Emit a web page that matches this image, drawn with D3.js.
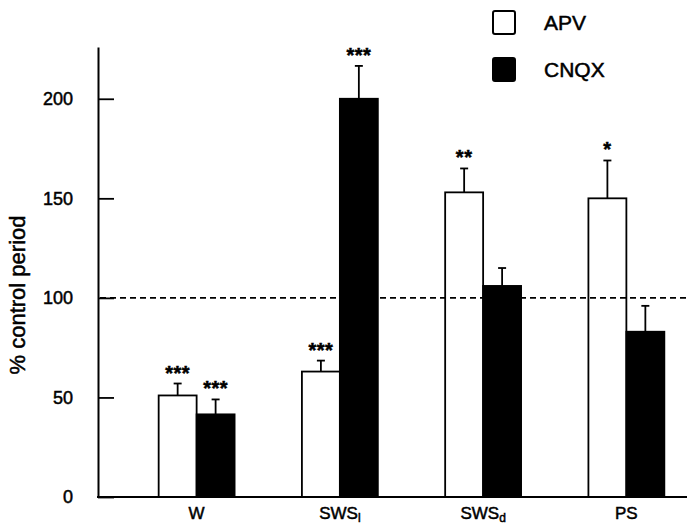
<!DOCTYPE html>
<html>
<head>
<meta charset="utf-8">
<script src="https://cdn.jsdelivr.net/npm/d3@7"></script>
<style>
  body { margin: 0; background: #fff; }
  text { font-family: "Liberation Sans", Arial, Helvetica, sans-serif; fill: #000; stroke: #000; stroke-width: 0.5px; }
</style>
</head>
<body>
<div id="chart"></div>
<script>
// data
const categories = ['W', 'SWSl', 'SWSd', 'PS'];
const catLabels = [['W', ''], ['SWS', 'l'], ['SWS', 'd'], ['PS', '']];
const seriesNames = ['APV', 'CNQX'];
const apvValues = [51, 63, 153, 150];
const apvSem = [6, 5.5, 12, 19];
const apvStars = ['***', '***', '**', '*'];
const cnqxValues = [41.5, 200, 106, 83];
const cnqxSem = [7.5, 16.5, 9, 13];
const cnqxStars = ['***', '***', '', ''];
const yTicks = [0, 50, 100, 150, 200];
const refLine = 100;

const width = 687, height = 526;

const svg = d3.select('#chart').append('svg')
  .attr('width', width)
  .attr('height', height);

const y = d3.scaleLinear().domain([0, 226]).range([497, 47]);
const x = d3.scaleBand().domain(categories).range([125, 698])
  .paddingInner(0.47).paddingOuter(0.235);
const xs = d3.scaleBand().domain(seriesNames).range([0, x.bandwidth()]);

const rows = [];
categories.forEach((c, i) => {
  rows.push({ cat: c, s: 'APV', v: apvValues[i], e: apvSem[i], star: apvStars[i], fill: '#fff' });
  rows.push({ cat: c, s: 'CNQX', v: cnqxValues[i], e: cnqxSem[i], star: cnqxStars[i], fill: '#000' });
});

// error bars (drawn first so the bar outline covers the base)
const err = svg.append('g').selectAll('g').data(rows).join('g')
  .attr('transform', d => `translate(${x(d.cat) + xs(d.s) + xs.bandwidth() / 2},0)`);
err.append('line')
  .attr('y1', d => y(d.v)).attr('y2', d => y(d.v + d.e))
  .attr('stroke', '#000').attr('stroke-width', 1.8);
err.append('line')
  .attr('x1', -4).attr('x2', 4)
  .attr('y1', d => y(d.v + d.e)).attr('y2', d => y(d.v + d.e))
  .attr('stroke', '#000').attr('stroke-width', 1.8);

// bars
svg.append('g').selectAll('rect').data(rows).join('rect')
  .attr('x', d => x(d.cat) + xs(d.s))
  .attr('y', d => y(d.v))
  .attr('width', xs.bandwidth())
  .attr('height', d => y(0) - y(d.v))
  .attr('fill', d => d.fill)
  .attr('stroke', '#000')
  .attr('stroke-width', 1.8);

// significance stars
svg.append('g').selectAll('text').data(rows).join('text')
  .attr('x', d => x(d.cat) + xs(d.s) + xs.bandwidth() / 2)
  .attr('y', d => y(d.v + d.e) - 4)
  .attr('text-anchor', 'middle')
  .attr('font-size', 20)
  .attr('font-weight', 'bold')
  .attr('letter-spacing', 0.5)
  .text(d => d.star);

// reference line at 100 %
svg.append('line')
  .attr('x1', 100).attr('x2', width)
  .attr('y1', y(refLine)).attr('y2', y(refLine))
  .attr('stroke', '#000').attr('stroke-width', 1.6)
  .attr('stroke-dasharray', '6,4');

// y axis, ticks pointing inward
const yAxis = svg.append('g')
  .attr('transform', 'translate(98,0)')
  .call(d3.axisLeft(y).tickValues(yTicks).tickSizeInner(-16).tickSizeOuter(0).tickPadding(25));
yAxis.select('.domain').attr('stroke-width', 2);
yAxis.selectAll('.tick line').attr('stroke-width', 1.8);
yAxis.selectAll('.tick text')
  .attr('font-size', 18)
  .style('font-family', '"Liberation Sans", Arial, sans-serif');

// x axis baseline
svg.append('line')
  .attr('x1', 97).attr('x2', width)
  .attr('y1', y(0)).attr('y2', y(0))
  .attr('stroke', '#000').attr('stroke-width', 2);

// category labels with subscripts
const xl = svg.append('g').selectAll('text').data(categories).join('text')
  .attr('x', d => x(d) + x.bandwidth() / 2)
  .attr('y', 519)
  .attr('text-anchor', 'middle')
  .attr('font-size', 17);
xl.append('tspan').text((d, i) => catLabels[i][0]);
xl.append('tspan')
  .attr('font-size', 12)
  .attr('dy', 2.5)
  .text((d, i) => catLabels[i][1]);

// y axis title
svg.append('text')
  .attr('transform', 'translate(25,295) rotate(-90)')
  .attr('text-anchor', 'middle')
  .attr('font-size', 22)
  .text('% control period');

// legend
const legend = svg.append('g').selectAll('g').data(seriesNames).join('g')
  .attr('transform', (d, i) => `translate(492,${10 + i * 47})`);
legend.append('rect')
  .attr('x', 1).attr('y', 1)
  .attr('width', 22).attr('height', 23).attr('rx', 2)
  .attr('fill', (d, i) => i === 0 ? '#fff' : '#000')
  .attr('stroke', '#000').attr('stroke-width', 2);
legend.append('text')
  .attr('x', 52).attr('y', 20)
  .attr('font-size', 21)
  .text(d => d);
</script>
</body>
</html>
